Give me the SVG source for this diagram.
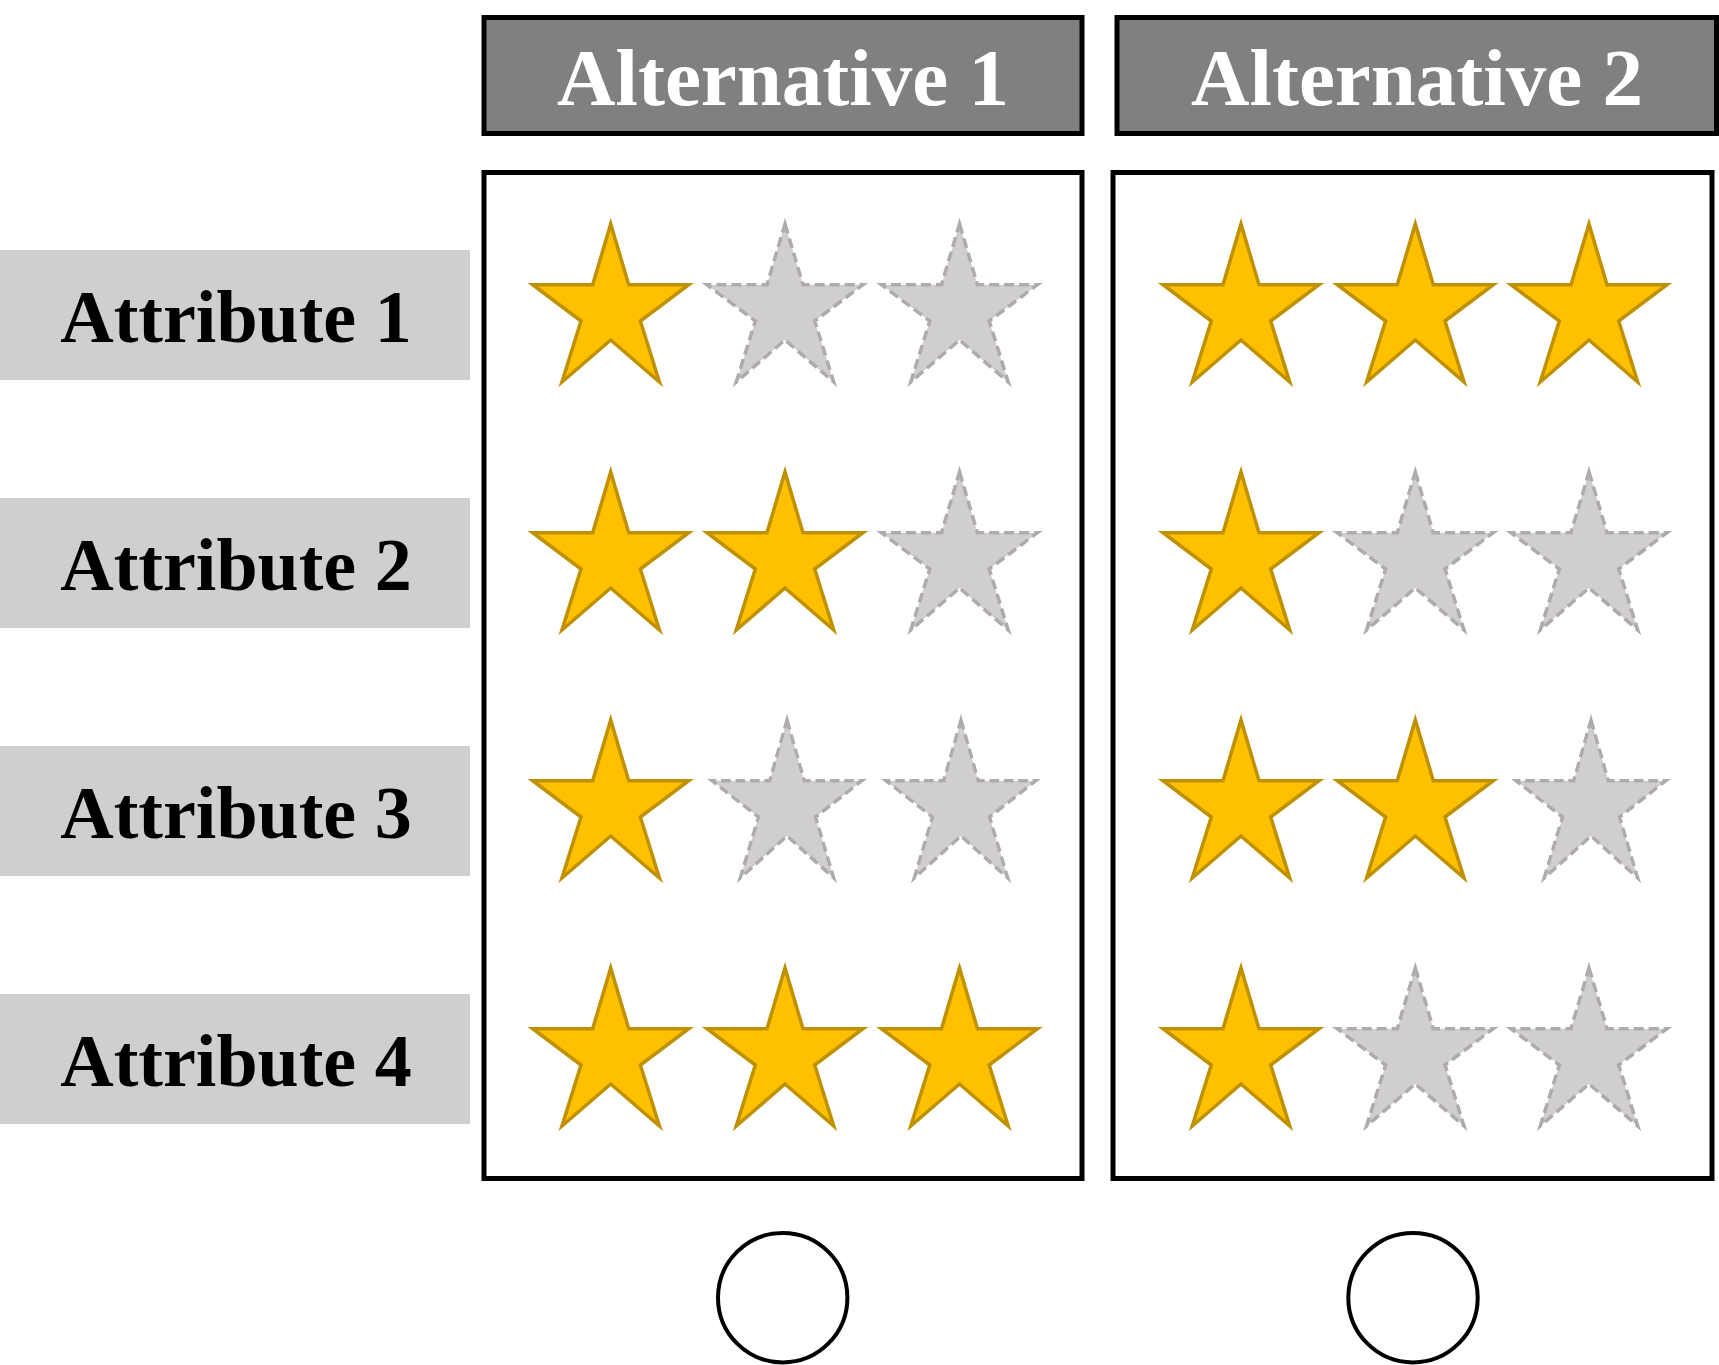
<svg xmlns="http://www.w3.org/2000/svg" xmlns:xlink="http://www.w3.org/1999/xlink" width="1719" height="1365" viewBox="0 0 1719 1365">
<style>
.hdr{fill:#808080;stroke:#000;stroke-width:5}
.box{fill:#fff;stroke:#000;stroke-width:5}
.attr{fill:#D0CECE;stroke:none}
.htxt{font-family:"Liberation Serif","Times New Roman",serif;font-weight:bold;font-size:81px;fill:#fff;text-anchor:middle}
.atxt{font-family:"Liberation Serif","Times New Roman",serif;font-weight:bold;font-size:74px;fill:#000;text-anchor:middle}
.gold{fill:#FFC000;stroke:#BF9000;stroke-width:3.5}
.gray{fill:#D0CECE;stroke:#AFABAB;stroke-width:3.5;stroke-dasharray:10 5}
.radio{fill:#fff;stroke:#000;stroke-width:4}
</style>
<defs>
<path id="star" d="M0,0 L18,60.7 L78,60.7 L29.7,97 L48.7,158 L0,116 L-48.7,158 L-29.7,97 L-78,60.7 L-18,60.7 Z"/>
</defs>
<rect width="1719" height="1365" fill="#fff"/>

<g id="alt1-header">
<rect class="hdr" x="484" y="17.5" width="598" height="116"/>
<text class="htxt" x="783" y="105">Alternative 1</text>
</g>
<g id="alt2-header">
<rect class="hdr" x="1117" y="17.5" width="599.5" height="116"/>
<text class="htxt" x="1417" y="105">Alternative 2</text>
</g>

<g id="attr1"><rect class="attr" x="0" y="250" width="470" height="130"/><text class="atxt" x="236" y="342">Attribute 1</text></g>
<g id="attr2"><rect class="attr" x="0" y="498" width="470" height="130"/><text class="atxt" x="236" y="590">Attribute 2</text></g>
<g id="attr3"><rect class="attr" x="0" y="746" width="470" height="130"/><text class="atxt" x="236" y="838">Attribute 3</text></g>
<g id="attr4"><rect class="attr" x="0" y="994" width="470" height="130"/><text class="atxt" x="236" y="1086">Attribute 4</text></g>

<g id="alt1-box">
<rect class="box" x="484" y="172.5" width="598" height="1006"/>
<use href="#star" class="gold" transform="translate(610.7,224)"/>
<use href="#star" class="gray" transform="translate(785,224)"/>
<use href="#star" class="gray" transform="translate(959.5,224)"/>
<use href="#star" class="gold" transform="translate(610.7,472)"/>
<use href="#star" class="gold" transform="translate(785,472)"/>
<use href="#star" class="gray" transform="translate(959.5,472)"/>
<use href="#star" class="gold" transform="translate(610.7,720)"/>
<use href="#star" class="gray" transform="translate(787,720) scale(0.96,1)"/>
<use href="#star" class="gray" transform="translate(961,720) scale(0.96,1)"/>
<use href="#star" class="gold" transform="translate(610.7,968)"/>
<use href="#star" class="gold" transform="translate(785,968)"/>
<use href="#star" class="gold" transform="translate(959.5,968)"/>
</g>

<g id="alt2-box">
<rect class="box" x="1113" y="172.5" width="599" height="1006"/>
<use href="#star" class="gold" transform="translate(1241,224)"/>
<use href="#star" class="gold" transform="translate(1415.3,224)"/>
<use href="#star" class="gold" transform="translate(1589,224)"/>
<use href="#star" class="gold" transform="translate(1241,472)"/>
<use href="#star" class="gray" transform="translate(1415.3,472)"/>
<use href="#star" class="gray" transform="translate(1589,472)"/>
<use href="#star" class="gold" transform="translate(1241,720)"/>
<use href="#star" class="gold" transform="translate(1415.3,720)"/>
<use href="#star" class="gray" transform="translate(1591,720) scale(0.96,1)"/>
<use href="#star" class="gold" transform="translate(1241,968)"/>
<use href="#star" class="gray" transform="translate(1415.3,968)"/>
<use href="#star" class="gray" transform="translate(1589,968)"/>
</g>

<g id="choice1"><circle class="radio" cx="782.7" cy="1297.7" r="64.7"/></g>
<g id="choice2"><circle class="radio" cx="1413" cy="1297.7" r="64.7"/></g>
</svg>
